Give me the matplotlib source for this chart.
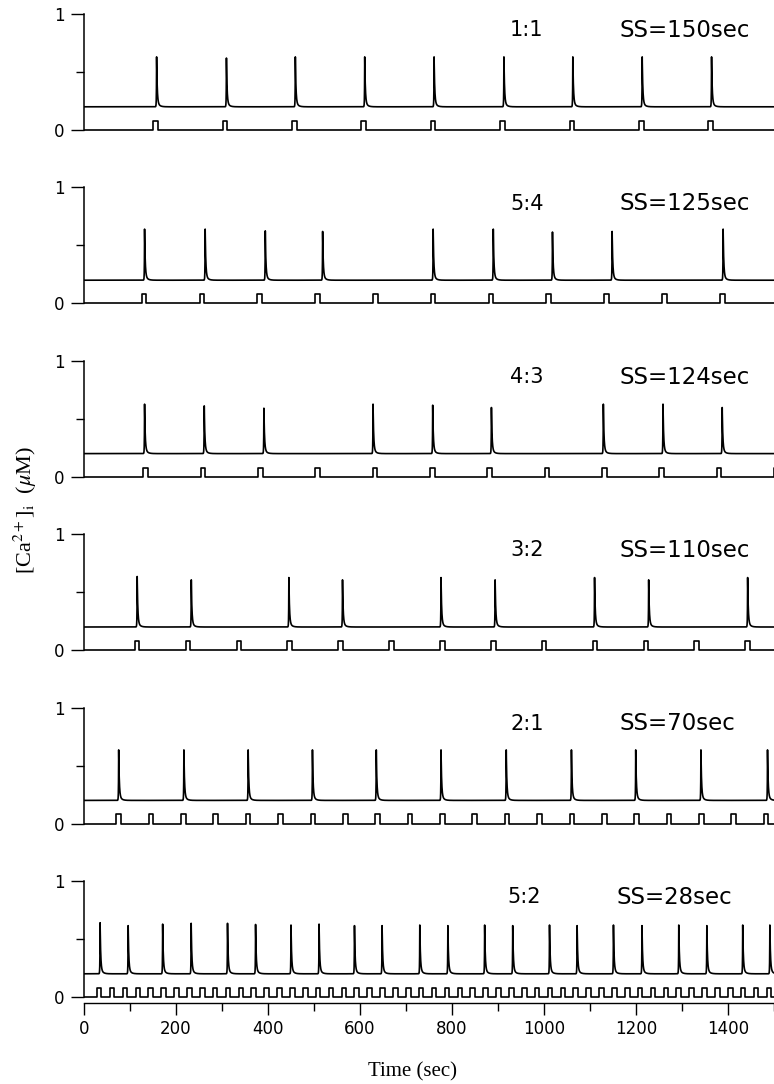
import numpy as np
import matplotlib
matplotlib.use('Agg')
import matplotlib.pyplot as plt

plt.rcParams['mathtext.fontset'] = 'stix'

# stimulus pattern per panel: locking ratio and stimulus spacing (sec)
ratios = ['1:1', '5:4', '4:3', '3:2', '2:1', '5:2']
spacing = [150, 125, 124, 110, 70, 28]

# pulse onsets (sec)
pulses = [
    [150, 300, 450, 600, 750, 900, 1050, 1200, 1350],
    [125, 250, 375, 500, 625, 750, 875, 1000, 1125, 1250, 1375],
    [128, 252, 376, 500, 624, 748, 872, 996, 1120, 1244, 1368, 1492],
    [110, 220, 330, 440, 550, 660, 770, 880, 990, 1100, 1210, 1320, 1430],
    [70, 140, 210, 280, 350, 420, 490, 560, 630, 700, 770, 840, 910, 980,
     1050, 1120, 1190, 1260, 1330, 1400, 1470],
    [28, 56, 84, 112, 140, 168, 196, 224, 252, 280, 308, 336, 364, 392, 420,
     448, 476, 504, 532, 560, 588, 616, 644, 672, 700, 728, 756, 784, 812,
     840, 868, 896, 924, 952, 980, 1008, 1036, 1064, 1092, 1120, 1148, 1176,
     1204, 1232, 1260, 1288, 1316, 1344, 1372, 1400, 1428, 1456, 1484],
]

# Ca2+ spike times (sec) and peak values (uM)
spikes = [
    [157, 308, 457, 607, 757, 908, 1057, 1207, 1357],
    [131, 262, 392, 516, 755, 885, 1013, 1142, 1382],
    [131, 260, 389, 625, 754, 881, 1123, 1252, 1380],
    [115, 232, 443, 559, 772, 889, 1104, 1221, 1435],
    [75, 216, 355, 494, 632, 772, 913, 1054, 1193, 1334, 1478],
    [35, 96, 171, 233, 312, 373, 450, 511, 588, 648, 730, 791, 871, 932,
     1012, 1072, 1151, 1213, 1293, 1354, 1432, 1491],
]
peaks = [
    [0.63, 0.62, 0.63, 0.63, 0.63, 0.63, 0.63, 0.63, 0.63],
    [0.64, 0.64, 0.625, 0.62, 0.64, 0.64, 0.615, 0.62, 0.64],
    [0.626, 0.611, 0.591, 0.626, 0.617, 0.597, 0.626, 0.626, 0.597],
    [0.635, 0.606, 0.626, 0.606, 0.626, 0.606, 0.626, 0.606, 0.626],
    [0.635] * 11,
    [0.64, 0.615, 0.628, 0.635, 0.635, 0.625, 0.62, 0.628, 0.615, 0.615,
     0.62, 0.615, 0.62, 0.615, 0.62, 0.615, 0.62, 0.615, 0.62, 0.615, 0.62,
     0.62],
]
rest_ca = 0.2
pulse_height = 0.08
pulse_width = 10

t = np.arange(0, 1500.05, 0.1)


def ca_trace(times, heights):
    y = np.full_like(t, rest_ca)
    for ts, pk in zip(times, heights):
        dt = t - ts
        up = np.exp(np.minimum(dt, 0) / 0.4)
        down = (0.88 * np.exp(-np.maximum(dt, 0) / 1.3)
                + 0.12 * np.exp(-np.maximum(dt, 0) / 4.5))
        y += (pk - rest_ca) * np.where(dt < 0, up, down)
    return y


def pulse_trace(onsets):
    xs, ys = [0], [0]
    for s in onsets:
        xs += [s, s, s + pulse_width, s + pulse_width]
        ys += [0, pulse_height, pulse_height, 0]
    xs.append(1500)
    ys.append(0)
    return xs, ys


W, H = 774, 1084
fig = plt.figure(figsize=(W / 100, H / 100), dpi=100)

x0_px = 84
xmax = 1492
sec_per_px = xmax / (W - x0_px)
lo, hi = -0.08, 1.03

for i in range(6):
    top_px = 14 + 173.4 * i      # pixel row of y = 1
    unit = 116.0                 # pixels per uM
    bottom = 1 - (top_px + (1 - lo) * unit) / H
    height = (hi - lo) * unit / H
    ax = fig.add_axes([x0_px / W, bottom, 1 - x0_px / W, height])

    ax.plot(t, ca_trace(spikes[i], peaks[i]), color='black', lw=1.2)
    px, py = pulse_trace(pulses[i])
    ax.plot(px, py, color='black', lw=1.2)

    ax.set_xlim(0, xmax)
    ax.set_ylim(lo, hi)
    for side in ['top', 'right']:
        ax.spines[side].set_visible(False)
    ax.spines['left'].set_bounds(0, 1)
    ax.spines['left'].set_linewidth(1.1)

    ax.set_yticks([0, 1])
    ax.set_yticklabels(['0', '1'])
    ax.set_yticks([0.5], minor=True)
    ax.tick_params(axis='y', which='major', length=9.5, width=1.0,
                   pad=4.5, labelsize=12)
    ax.tick_params(axis='y', which='minor', length=6, width=1.0)

    ax.text((510 - x0_px) * sec_per_px, 0.86, ratios[i], fontsize=15,
            va='center', ha='left')
    ax.text((619 - x0_px) * sec_per_px, 0.86, 'SS=%dsec' % spacing[i],
            fontsize=16.5, va='center', ha='left')

    if i < 5:
        ax.spines['bottom'].set_visible(False)
        ax.set_xticks([])
    else:
        ax.spines['bottom'].set_position(('data', -0.05))
        ax.spines['bottom'].set_bounds(0, 1500)
        ax.spines['bottom'].set_linewidth(1.0)
        ax.set_xticks(np.arange(0, 1401, 200))
        ax.set_xticks(np.arange(100, 1501, 200), minor=True)
        ax.tick_params(axis='x', which='major', length=8.5, width=1.0,
                       pad=4, labelsize=12)
        ax.tick_params(axis='x', which='minor', length=6, width=1.0)

fig.text(412 / W, 1 - 1072 / H, 'Time (sec)', family='Liberation Serif',
         fontsize=15, ha='center', va='center')
fig.text(25 / W, 1 - 510 / H, r'[Ca$^{2+}$]$_{\rm i}$  ($\mu$M)',
         family='Liberation Serif', fontsize=16, rotation=90,
         ha='center', va='center')

fig.savefig('out.png', dpi=100)
